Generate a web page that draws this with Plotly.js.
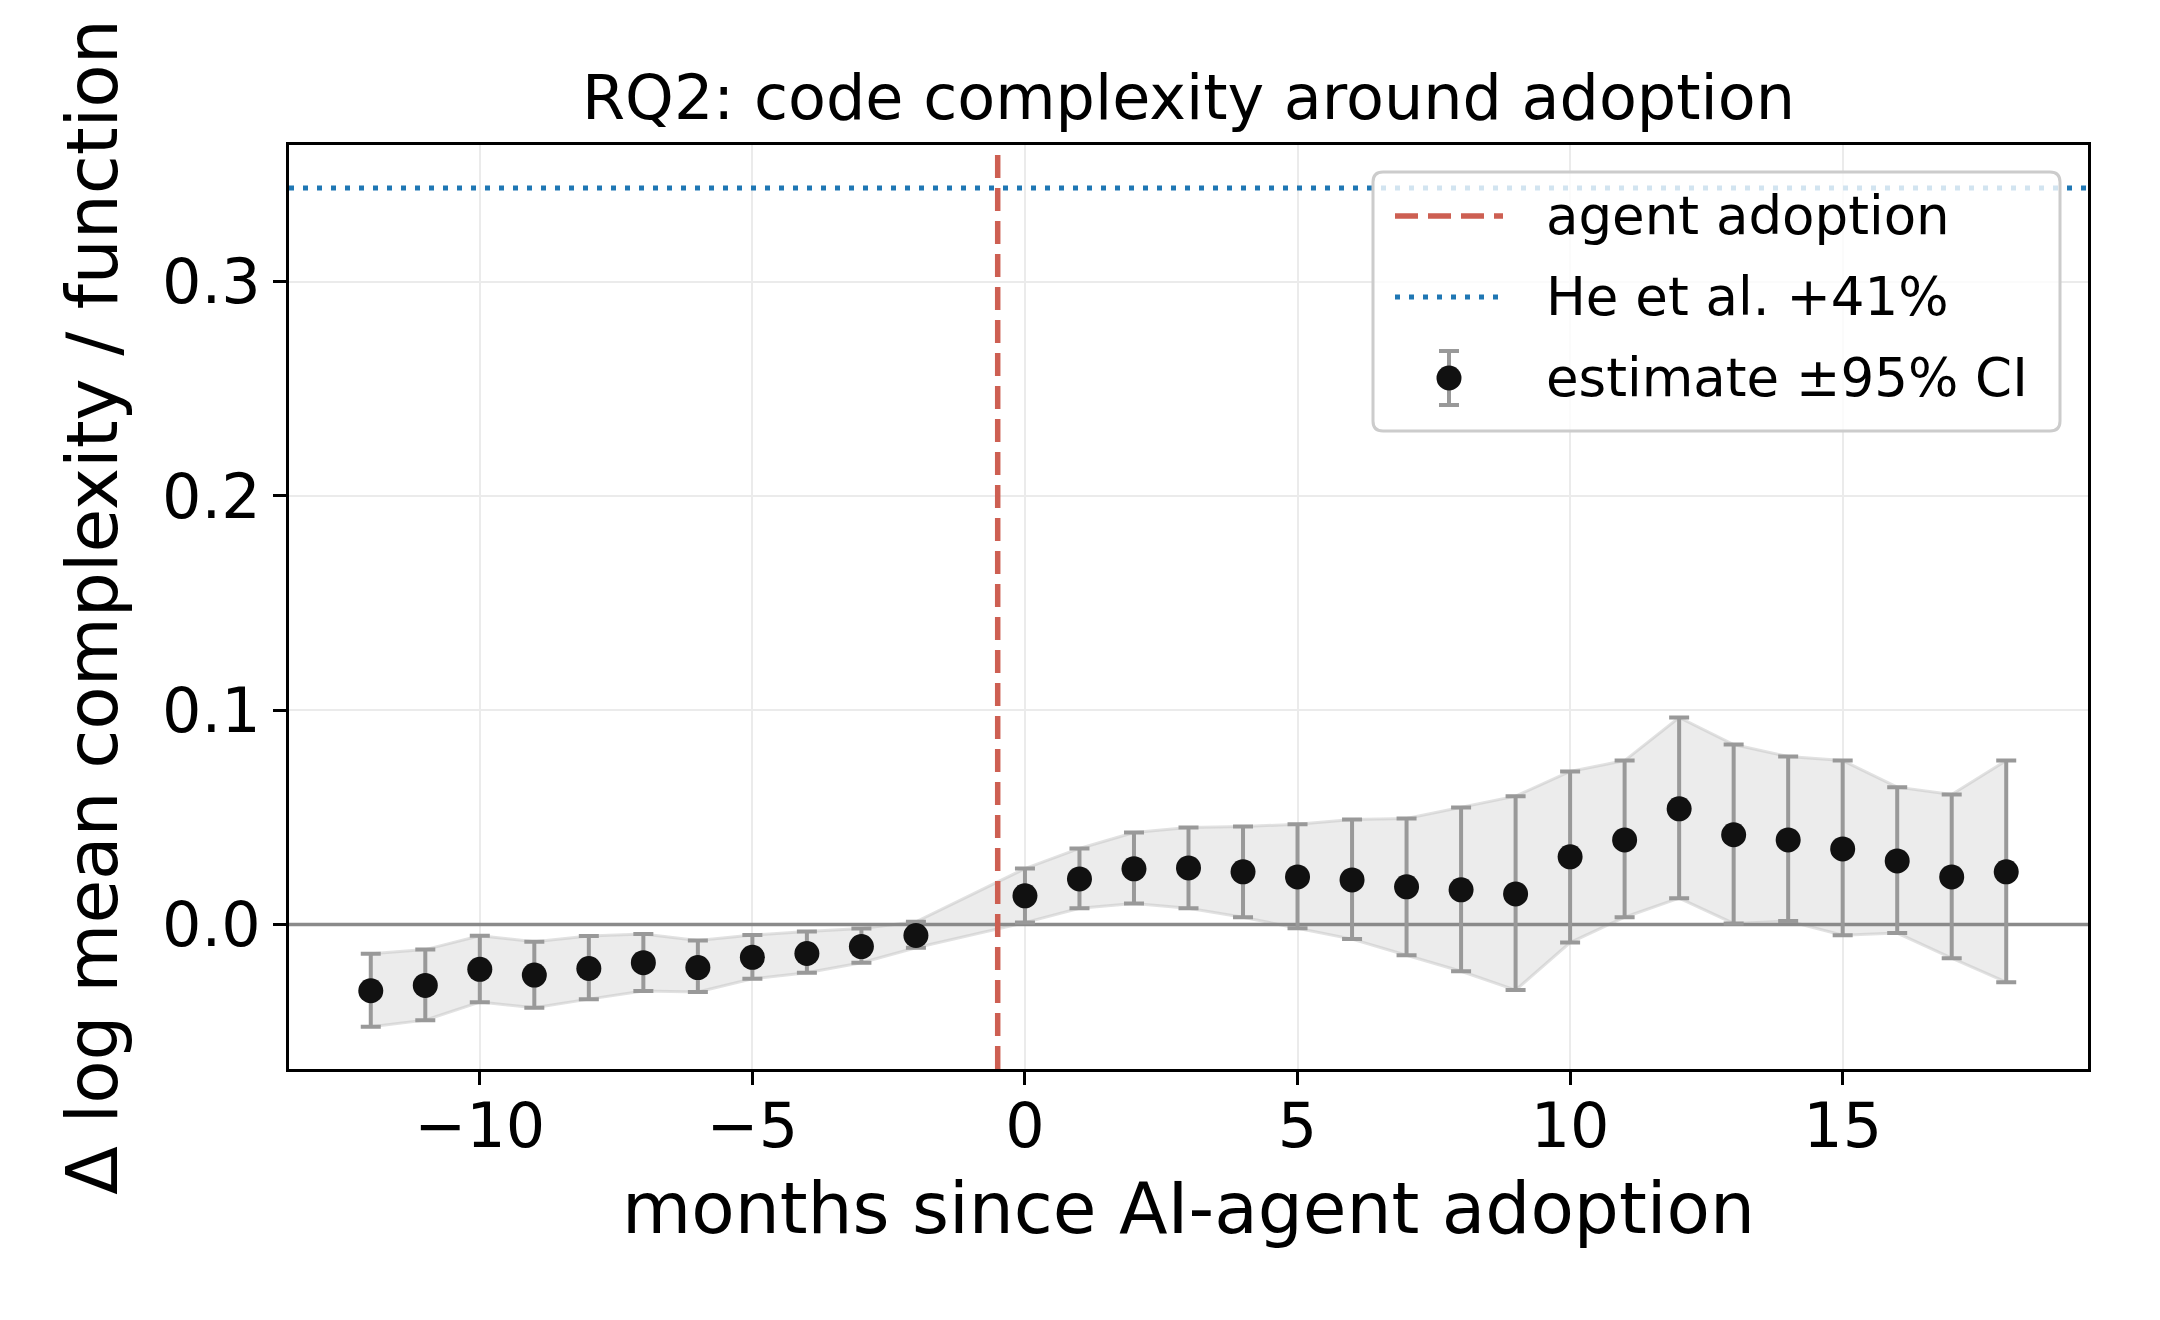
<!DOCTYPE html>
<html>
<head>
<meta charset="utf-8">
<script src="https://cdn.plot.ly/plotly-3.0.1.min.js"></script>
<style>html,body{margin:0;padding:0;background:#fff;}#chart{width:2160px;height:1320px;}</style>
</head>
<body>
<div id="chart"></div>
<script>
// months relative to adoption (month -1 is the reference period, omitted)
const months = [-12,-11,-10,-9,-8,-7,-6,-5,-4,-3,-2,0,1,2,3,4,5,6,7,8,9,10,11,12,13,14,15,16,17,18];
const estimate = [-0.0309,-0.0284,-0.0209,-0.0236,-0.0205,-0.0178,-0.0201,-0.0153,-0.0135,-0.0103,-0.0051,
  0.0134,0.0213,0.0260,0.0264,0.0246,0.0222,0.0208,0.0176,0.0162,0.0143,0.0316,0.0395,0.0540,0.0419,0.0395,0.0353,0.0297,0.0222,0.0246];
const ciLow = [-0.0477,-0.0446,-0.0362,-0.0388,-0.0348,-0.0310,-0.0315,-0.0253,-0.0225,-0.0178,-0.0108,
  0.0009,0.0076,0.0098,0.0076,0.0034,-0.0017,-0.0068,-0.0143,-0.0218,-0.0306,-0.0084,0.0034,0.0123,0.0005,0.0016,-0.0050,-0.0040,-0.0157,-0.0269];
const ciHigh = [-0.0136,-0.0117,-0.0052,-0.0080,-0.0054,-0.0044,-0.0075,-0.0049,-0.0033,-0.0018,0.0013,
  0.0261,0.0355,0.0429,0.0453,0.0457,0.0468,0.0490,0.0495,0.0546,0.0599,0.0714,0.0765,0.0966,0.0840,0.0784,0.0765,0.0641,0.0607,0.0765];
const adoptionX = -0.5;
const heEtAl = Math.log(1.41); // +41%
const xRange = [-13.5, 19.5];
const yRange = [-0.0674, 0.3637];
const xTicks = [-10,-5,0,5,10,15];
const yTicks = [0, 0.1, 0.2, 0.3];
const legendLabels = ['agent adoption', 'He et al. +41%', 'estimate ±95% CI'];

const FONT = 'DejaVu Sans, Liberation Sans, sans-serif';
const RED = '#cd5f52', BLUE = '#1f77b4', ERR = '#999999', DOT = '#111111';
const RED_DASH = '23px,10px', BLUE_DOT = '5px,9px';

// plot-area geometry in pixels (for placing the legend box in paper units)
const M = {l: 289, r: 72, t: 145, b: 251};
const PW = 2160 - M.l - M.r, PH = 1320 - M.t - M.b;
const px = v => (v - M.l) / PW;
const py = v => (1320 - M.b - v) / PH;

const traces = [
  {x: months, y: ciLow, mode: 'lines', line: {color: 'rgba(190,190,190,0.45)', width: 3},
   showlegend: false, hoverinfo: 'skip'},
  {x: months, y: ciHigh, mode: 'lines', fill: 'tonexty', fillcolor: 'rgba(128,128,128,0.15)',
   line: {color: 'rgba(190,190,190,0.45)', width: 3}, showlegend: false, hoverinfo: 'skip'},
  {x: xRange, y: [0, 0], mode: 'lines', line: {color: '#8a8a8a', width: 3.5}, showlegend: false, hoverinfo: 'skip'},
  {x: [adoptionX, adoptionX], y: yRange, mode: 'lines', name: legendLabels[0], showlegend: false,
   line: {color: RED, width: 5.5, dash: RED_DASH}},
  {x: xRange, y: [heEtAl, heEtAl], mode: 'lines', name: legendLabels[1], showlegend: false,
   line: {color: BLUE, width: 5, dash: BLUE_DOT}},
  {x: months, y: estimate, mode: 'markers', name: legendLabels[2], showlegend: false,
   marker: {color: DOT, size: 25},
   error_y: {type: 'data', symmetric: false,
     array: ciHigh.map((h, i) => h - estimate[i]),
     arrayminus: ciLow.map((l, i) => estimate[i] - l),
     color: ERR, thickness: 4, width: 10}}
];

// ---- legend (drawn as a framed box, like matplotlib's) ----
const box = {x0: 1373, y0: 172, x1: 2060, y1: 431, r: 10};
const roundRect = (b) => {
  const X = px, Y = py, rx = b.r, ry = b.r;
  return `M ${X(b.x0 + rx)},${Y(b.y0)} L ${X(b.x1 - rx)},${Y(b.y0)} Q ${X(b.x1)},${Y(b.y0)} ${X(b.x1)},${Y(b.y0 + ry)} ` +
    `L ${X(b.x1)},${Y(b.y1 - ry)} Q ${X(b.x1)},${Y(b.y1)} ${X(b.x1 - rx)},${Y(b.y1)} ` +
    `L ${X(b.x0 + rx)},${Y(b.y1)} Q ${X(b.x0)},${Y(b.y1)} ${X(b.x0)},${Y(b.y1 - ry)} ` +
    `L ${X(b.x0)},${Y(b.y0 + ry)} Q ${X(b.x0)},${Y(b.y0)} ${X(b.x0 + rx)},${Y(b.y0)} Z`;
};
const rowY = [216, 297, 378];
const symX0 = 1395, symX1 = 1503, symMid = 1449, textX = 1544;
const P = {xref: 'paper', yref: 'paper', layer: 'above'};
const shapes = [
  Object.assign({type: 'path', path: roundRect(box), fillcolor: 'rgba(255,255,255,0.8)',
    line: {color: '#cccccc', width: 3}}, P),
  Object.assign({type: 'line', x0: px(symX0), x1: px(symX1), y0: py(rowY[0]), y1: py(rowY[0]),
    line: {color: RED, width: 5.5, dash: RED_DASH}}, P),
  Object.assign({type: 'line', x0: px(symX0), x1: px(symX1), y0: py(rowY[1]), y1: py(rowY[1]),
    line: {color: BLUE, width: 5, dash: BLUE_DOT}}, P),
  Object.assign({type: 'line', x0: px(symMid), x1: px(symMid), y0: py(rowY[2] - 27), y1: py(rowY[2] + 27),
    line: {color: ERR, width: 4}}, P),
  Object.assign({type: 'line', x0: px(symMid - 10), x1: px(symMid + 10), y0: py(rowY[2] - 27), y1: py(rowY[2] - 27),
    line: {color: ERR, width: 4}}, P),
  Object.assign({type: 'line', x0: px(symMid - 10), x1: px(symMid + 10), y0: py(rowY[2] + 27), y1: py(rowY[2] + 27),
    line: {color: ERR, width: 4}}, P),
  Object.assign({type: 'circle', x0: px(symMid - 12.5), x1: px(symMid + 12.5), y0: py(rowY[2] - 12.5), y1: py(rowY[2] + 12.5),
    fillcolor: DOT, line: {width: 0}}, P)
];
const annotations = legendLabels.map((t, i) => ({
  text: t, xref: 'paper', yref: 'paper', x: px(textX), y: py(rowY[i] - 1),
  xanchor: 'left', yanchor: 'middle', showarrow: false,
  font: {family: FONT, size: 53, color: '#000'}
}));

const axisCommon = {
  showline: true, linecolor: '#000', linewidth: 3, mirror: true,
  ticks: 'outside', ticklen: 13, tickwidth: 3, tickcolor: '#000',
  showgrid: true, gridcolor: '#ebebeb', gridwidth: 2, zeroline: false,
  tickfont: {family: FONT, size: 62, color: '#000'}
};

const layout = {
  width: 2160, height: 1320,
  paper_bgcolor: '#fff', plot_bgcolor: '#fff',
  margin: M,
  font: {family: FONT, color: '#000'},
  showlegend: false,
  title: {text: 'RQ2: code complexity around adoption', font: {family: FONT, size: 62, color: '#000'},
    x: 0.5, xref: 'paper', xanchor: 'center', y: 1 - 97/1320, yref: 'container', yanchor: 'middle'},
  xaxis: Object.assign({}, axisCommon, {range: xRange, tickvals: xTicks, ticklabelstandoff: -12,
    title: {text: 'months since AI-agent adoption', font: {family: FONT, size: 71, color: '#000'}, standoff: 22}}),
  yaxis: Object.assign({}, axisCommon, {range: yRange, tickvals: yTicks, tickformat: '.1f',
    title: {text: 'Δ log mean complexity / function', font: {family: FONT, size: 71, color: '#000'}, standoff: 22}}),
  shapes: shapes,
  annotations: annotations
};

Plotly.newPlot('chart', traces, layout, {displayModeBar: false, staticPlot: true});
</script>
</body>
</html>
